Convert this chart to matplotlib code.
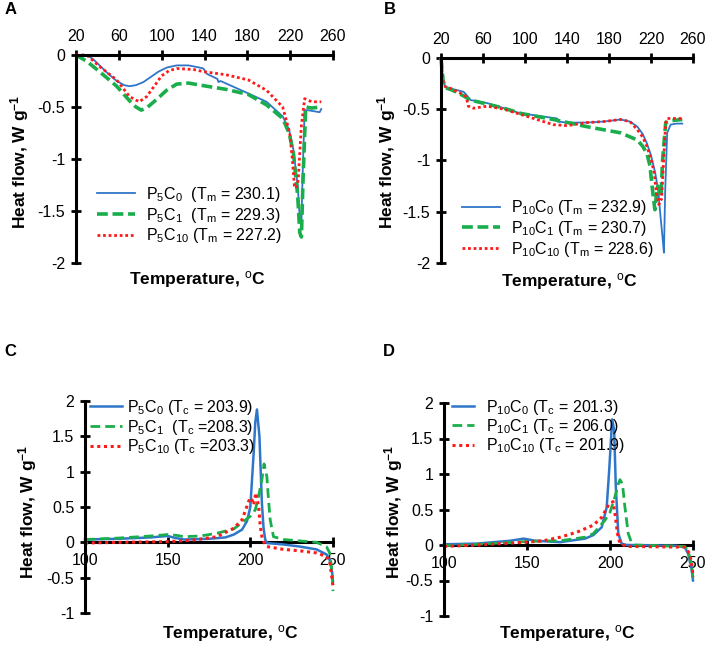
import matplotlib
matplotlib.use("Agg")
import matplotlib.pyplot as plt

plt.rcParams['font.family'] = ['Liberation Sans', 'DejaVu Sans']
plt.rcParams['mathtext.fontset'] = 'custom'
plt.rcParams['mathtext.rm'] = 'Liberation Sans'
plt.rcParams['mathtext.it'] = 'Liberation Sans:italic'
plt.rcParams['mathtext.bf'] = 'Liberation Sans:bold'
plt.rcParams['axes.unicode_minus'] = False

# ---------------- data ----------------
# Panel A (heating, P5 series)
tA0 = [20, 30, 36, 42, 50, 58, 65, 70, 76, 83, 90, 97, 105, 114, 125, 135, 139, 142, 152, 153, 155, 181, 198, 213, 219, 223, 227, 229, 230.4, 231.5, 233.5, 236, 247.5, 249]
hA0 = [0, 0, -0.04, -0.10, -0.18, -0.25, -0.29, -0.30, -0.29, -0.26, -0.21, -0.16, -0.12, -0.10, -0.10, -0.12, -0.13, -0.18, -0.23, -0.26, -0.25, -0.37, -0.45, -0.59, -0.72, -0.91, -1.25, -1.58, -1.65, -1.2, -0.53, -0.53, -0.55, -0.52]
tA1 = [20, 30, 42, 58, 70, 76, 81, 87, 95, 104.5, 114, 125, 142, 160, 181, 198, 213, 219, 223, 227, 229, 230.5, 232, 234.5, 240, 249]
hA1 = [0, -0.06, -0.16, -0.30, -0.44, -0.50, -0.53, -0.50, -0.43, -0.34, -0.28, -0.27, -0.30, -0.33, -0.38, -0.48, -0.61, -0.75, -0.94, -1.35, -1.71, -1.75, -1.2, -0.50, -0.51, -0.50]
tA10 = [20, 30, 42, 58, 70, 79, 86, 93, 100, 107, 114, 130, 139, 160, 181, 198, 213, 219.6, 222, 224, 225.8, 227.5, 230.4, 233.5, 236, 240, 249]
hA10 = [0, 0, -0.11, -0.24, -0.40, -0.45, -0.40, -0.30, -0.20, -0.15, -0.13, -0.14, -0.16, -0.19, -0.24, -0.34, -0.50, -0.75, -1.0, -1.26, -1.28, -1.2, -0.69, -0.42, -0.43, -0.45, -0.45]

# Panel B (heating, P10 series)
tB0 = [20, 21, 22, 24, 30, 41.6, 45, 48, 64, 80, 95.7, 110, 130.6, 131, 140, 159, 175, 191, 200, 207, 212, 216, 220, 224, 227, 229, 231, 232.3, 233.5, 235.4, 238.7, 244, 249.8]
hB0 = [0, -0.12, -0.22, -0.28, -0.30, -0.33, -0.37, -0.41, -0.44, -0.49, -0.54, -0.56, -0.59, -0.62, -0.63, -0.63, -0.62, -0.60, -0.62, -0.67, -0.74, -0.83, -0.95, -1.12, -1.3, -1.54, -1.75, -1.90, -1.3, -0.73, -0.65, -0.64, -0.64]
tB1 = [20, 21, 22, 24, 30, 41.6, 48, 64, 80, 95.7, 127, 159, 175, 191, 207, 212, 216, 219, 221, 223.7, 225, 226.5, 228, 229.5, 231, 234, 240, 249.8]
hB1 = [0, -0.12, -0.22, -0.29, -0.31, -0.37, -0.41, -0.45, -0.49, -0.54, -0.60, -0.67, -0.70, -0.73, -0.80, -0.86, -0.93, -1.05, -1.25, -1.48, -1.35, -1.25, -1.3, -1.35, -1.0, -0.63, -0.61, -0.60]
tB10 = [20, 21, 22, 24, 30, 41.6, 44, 46, 51, 64, 80, 95.7, 127, 140, 159, 175, 191, 200, 207, 212, 216, 220, 223, 225, 227.5, 229, 230, 232, 234, 235.5, 240, 250]
hB10 = [0, -0.12, -0.22, -0.28, -0.30, -0.36, -0.38, -0.47, -0.49, -0.47, -0.50, -0.55, -0.65, -0.66, -0.63, -0.62, -0.60, -0.62, -0.70, -0.77, -0.86, -0.98, -1.12, -1.3, -1.43, -1.38, -1.38, -1.0, -0.63, -0.59, -0.59, -0.59]

# Panel C (cooling, P5 series)
tC0 = [100, 120, 140, 150, 155, 160, 175, 185, 190, 195, 198, 200, 202, 203, 204, 205.5, 207, 208, 209, 210, 220, 230, 240, 246, 248, 249.5, 250]
hC0 = [0.04, 0.05, 0.07, 0.09, 0.06, 0.04, 0.05, 0.07, 0.11, 0.18, 0.3, 0.5, 1.26, 1.7, 1.88, 1.5, 0.55, 0.2, 0.04, -0.01, -0.03, -0.06, -0.10, -0.17, -0.25, -0.43, -0.55]
tC1 = [100, 120, 140, 150, 155, 160, 170, 180, 190, 200, 203, 205, 207, 208.3, 210, 211, 212, 214, 220, 230, 240, 246, 248, 249.5, 250]
hC1 = [0.04, 0.06, 0.09, 0.11, 0.10, 0.08, 0.09, 0.13, 0.19, 0.37, 0.46, 0.65, 0.89, 1.11, 0.93, 0.6, 0.32, 0.08, 0.04, 0.02, 0.0, -0.06, -0.15, -0.43, -0.69]
tC10 = [100, 120, 150, 165, 180, 190, 195, 199, 200, 201, 202, 203.3, 205, 206, 207, 208, 210, 220, 230, 240, 246, 248, 249.5, 250]
hC10 = [-0.01, 0.0, 0.01, 0.03, 0.08, 0.2, 0.32, 0.58, 0.63, 0.60, 0.53, 0.70, 0.51, 0.23, 0.08, 0.01, -0.06, -0.10, -0.12, -0.15, -0.20, -0.27, -0.53, -0.62]

# Panel D (cooling, P10 series)
tD0 = [100, 120, 140, 148, 155, 170, 185, 190, 195, 198, 199.5, 201.3, 202.5, 203.5, 205, 207, 210, 240, 245, 247, 249, 250]
hD0 = [0.01, 0.02, 0.06, 0.09, 0.06, 0.04, 0.09, 0.14, 0.25, 0.53, 1.05, 1.77, 1.62, 0.82, 0.16, 0.02, 0.0, -0.01, -0.03, -0.12, -0.31, -0.5]
tD1 = [100, 120, 150, 170, 185, 190, 197, 200, 203, 205, 206, 207.5, 209, 211, 213, 215, 245, 247, 249, 250]
hD1 = [-0.01, 0.01, 0.05, 0.06, 0.11, 0.16, 0.35, 0.46, 0.68, 0.86, 0.92, 0.86, 0.53, 0.16, 0.03, 0.0, -0.02, -0.08, -0.26, -0.47]
tD10 = [100, 120, 150, 160, 170, 180, 190, 195, 199, 200, 201.9, 203, 204.5, 206, 210, 245, 248, 249.5, 250]
hD10 = [-0.02, 0.0, 0.04, 0.06, 0.11, 0.18, 0.28, 0.39, 0.56, 0.59, 0.61, 0.44, 0.16, 0.02, -0.02, -0.03, -0.12, -0.31, -0.45]

labA = [r"P$_5$C$_0$  (T$_\mathrm{m}$ = 230.1)", r"P$_5$C$_1$  (T$_\mathrm{m}$ = 229.3)", r"P$_5$C$_{10}$ (T$_\mathrm{m}$ = 227.2)"]
labB = [r"P$_{10}$C$_0$ (T$_\mathrm{m}$ = 232.9)", r"P$_{10}$C$_1$ (T$_\mathrm{m}$ = 230.7)", r"P$_{10}$C$_{10}$ (T$_\mathrm{m}$ = 228.6)"]
labC = [r"P$_5$C$_0$ (T$_\mathrm{c}$ = 203.9)", r"P$_5$C$_1$  (T$_\mathrm{c}$ =208.3)", r"P$_5$C$_{10}$ (T$_\mathrm{c}$ =203.3)"]
labD = [r"P$_{10}$C$_0$ (T$_\mathrm{c}$ = 201.3)", r"P$_{10}$C$_1$ (T$_\mathrm{c}$ = 206.0)", r"P$_{10}$C$_{10}$ (T$_\mathrm{c}$ = 201.9)"]

xticksAB = [20, 60, 100, 140, 180, 220, 260]
yticksAB = [0, -0.5, -1, -1.5, -2]
yticklabAB = ["0", "-0.5", "-1", "-1.5", "-2"]
xticksCD = [100, 150, 200, 250]
yticksCD = [2, 1.5, 1, 0.5, 0, -0.5, -1]
yticklabCD = ["2", "1.5", "1", "0.5", "0", "-0.5", "-1"]

# ---------------- figure ----------------
W, H = 708, 645
fig = plt.figure(figsize=(W / 100, H / 100), dpi=100)

BLUE = '#2F76C9'
GREEN = '#19AE4B'
RED = '#FF1A1A'
FS = 11.5
LFS = 11.5
AXFS = 12.5


def px_axes(l, t, r, b):
    return fig.add_axes([l / W, 1 - b / H, (r - l) / W, (b - t) / H])


def style(ax, kind):
    ax.spines['right'].set_visible(False)
    if kind == 'heat':
        ax.spines['bottom'].set_visible(False)
        ax.spines['top'].set_linewidth(2.2)
        ax.xaxis.set_ticks_position('top')
    else:
        ax.spines['top'].set_visible(False)
        ax.spines['bottom'].set_position(('data', 0))
        ax.spines['bottom'].set_linewidth(2.2)
        ax.spines['bottom'].set_zorder(1)
    ax.spines['left'].set_linewidth(2.2)
    ax.tick_params(axis='both', direction='inout', length=7.5, width=2.0,
                   labelsize=FS, pad=4)
    ax.patch.set_alpha(0)


def draw(ax, series, labels, styles):
    for (t, h), lab, st in zip(series, labels, styles):
        ax.plot(t, h, label=lab, clip_on=False, **st)


stylesA = [dict(color=BLUE, lw=1.3, ls='-'),
           dict(color=GREEN, lw=2.6, ls=(0, (3.0, 1.3))),
           dict(color=RED, lw=2.0, ls=(0, (1, 1)))]
stylesC = [dict(color=BLUE, lw=1.8, ls='-'),
           dict(color=GREEN, lw=2.0, ls=(0, (3.5, 1.8))),
           dict(color=RED, lw=2.2, ls=(0, (1, 1.2)))]

# Panel A
axA = px_axes(76, 55, 333, 263)
style(axA, 'heat')
draw(axA, [(tA0, hA0), (tA1, hA1), (tA10, hA10)], labA, stylesA)
axA.set_xlim(20, 260)
axA.set_ylim(-2, 0)
axA.set_xticks(xticksAB)
axA.set_yticks(yticksAB)
axA.set_yticklabels(yticklabAB)
axA.legend(loc='upper left', bbox_to_anchor=(0.082, 0.375), frameon=False,
           fontsize=LFS, handlelength=2.4, handletextpad=0.65, labelspacing=0.1,
           borderpad=0, borderaxespad=0)

# Panel B
axB = px_axes(441, 58, 693, 263)
style(axB, 'heat')
draw(axB, [(tB0, hB0), (tB1, hB1), (tB10, hB10)], labB, stylesA)
axB.set_xlim(20, 260)
axB.set_ylim(-2, 0)
axB.set_xticks(xticksAB)
axB.set_yticks(yticksAB)
axB.set_yticklabels(yticklabAB)
axB.legend(loc='upper left', bbox_to_anchor=(0.083, 0.315), frameon=False,
           fontsize=LFS, handlelength=2.4, handletextpad=0.7, labelspacing=0.1,
           borderpad=0, borderaxespad=0)

# Panel C
axC = px_axes(85, 401, 333, 613)
style(axC, 'cool')
draw(axC, [(tC0, hC0), (tC1, hC1), (tC10, hC10)], labC, stylesC)
axC.set_xlim(100, 250)
axC.set_ylim(-1, 2)
axC.set_xticks(xticksCD)
axC.set_yticks(yticksCD)
axC.set_yticklabels(yticklabCD)
axC.legend(loc='upper left', bbox_to_anchor=(0.02, 1.015), frameon=False,
           fontsize=LFS, handlelength=2.0, handletextpad=0.35, labelspacing=0.05,
           borderpad=0, borderaxespad=0)

# Panel D
axD = px_axes(444, 403, 693, 616)
style(axD, 'cool')
draw(axD, [(tD0, hD0), (tD1, hD1), (tD10, hD10)], labD, stylesC)
axD.set_xlim(100, 250)
axD.set_ylim(-1, 2)
axD.set_xticks(xticksCD)
axD.set_yticks(yticksCD)
axD.set_yticklabels(yticklabCD)
axD.legend(loc='upper left', bbox_to_anchor=(0.032, 1.025), frameon=False,
           fontsize=LFS, handlelength=1.35, handletextpad=0.8, labelspacing=0.02,
           borderpad=0, borderaxespad=0)

# Axis labels and panel letters
ylab = r"Heat flow, W g$^{\mathbf{-1}}$"
xlab = r"Temperature, $^{\mathrm{o}}$C"


def ftext(x, y, s, **kw):
    fig.text(x / W, 1 - y / H, s, **kw)


for x, y in [(197, 280), (569, 282), (230, 633), (567, 633)]:
    ftext(x, y, xlab, ha='center', va='center', fontsize=AXFS, fontweight='bold')
for x, y in [(20, 162), (387, 162), (28, 512), (394, 512)]:
    ftext(x, y, ylab, ha='center', va='center', rotation=90, fontsize=AXFS, fontweight='bold')
for x, y, s in [(5, 9, 'A'), (384, 9, 'B'), (4, 351, 'C'), (383, 351, 'D')]:
    ftext(x, y, s, ha='left', va='center', fontsize=12, fontweight='bold')

fig.savefig('out.png', dpi=100)
